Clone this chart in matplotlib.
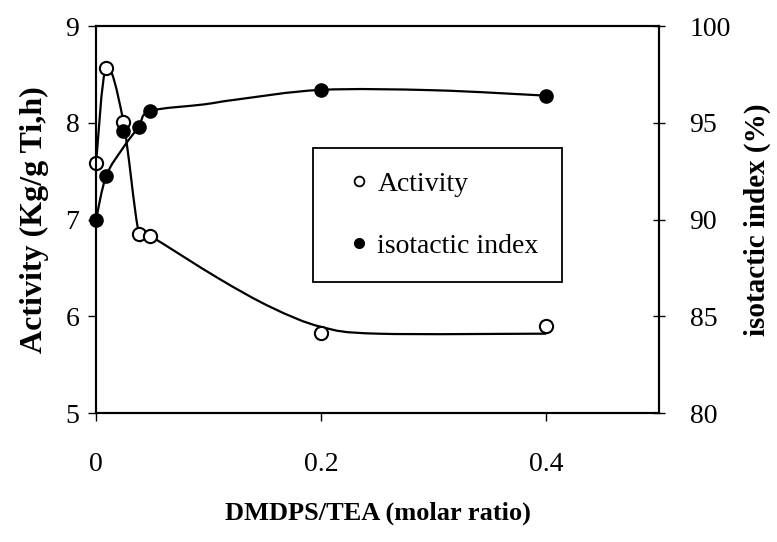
import numpy as np
import matplotlib
matplotlib.use("Agg")
import matplotlib.pyplot as plt
from matplotlib.path import Path
from matplotlib.patches import PathPatch

plt.rcParams['font.family'] = ['Liberation Serif', 'DejaVu Serif']

# measured points
ratio = [0, 0.009, 0.024, 0.038, 0.048, 0.2, 0.4]
activity = [7.58, 8.57, 8.01, 6.85, 6.83, 5.83, 5.90]
iso_index = [90.0, 92.25, 94.6, 94.8, 95.6, 96.7, 96.4]

# hand-drawn trend curves
act_curve_x = [0, 0.009, 0.024, 0.038, 0.048, 0.109, 0.156, 0.2, 0.25, 0.4]
act_curve_y = [7.58, 8.57, 8.03, 6.86, 6.83, 6.39, 6.09, 5.89, 5.82, 5.82]
iso_curve_x = [0, 0.009, 0.024, 0.038, 0.048, 0.096, 0.125, 0.2, 0.3, 0.4]
iso_curve_y = [90.0, 92.25, 93.7, 94.8, 95.6, 95.95, 96.2, 96.7, 96.68, 96.4]

x_ticks = [0, 0.2, 0.4]
left_ticks = [5, 6, 7, 8, 9]
right_ticks = [80, 85, 90, 95, 100]


def smooth_path(xs, ys):
    # Catmull-Rom -> cubic Bezier path through the curve points
    p = np.column_stack([xs, ys]).astype(float)
    p = np.vstack([p[0], p, p[-1]])
    verts = [p[1]]
    codes = [Path.MOVETO]
    for i in range(1, len(p) - 2):
        c1 = p[i] + (p[i + 1] - p[i - 1]) / 6
        c2 = p[i + 1] - (p[i + 2] - p[i]) / 6
        verts += [c1, c2, p[i + 1]]
        codes += [Path.CURVE4] * 3
    return Path(verts, codes)


fig = plt.figure(figsize=(7.77, 5.42), dpi=100)
ax = fig.add_axes([0.1236, 0.238, 0.7245, 0.714])
ax2 = ax.twinx()

ax.add_patch(PathPatch(smooth_path(act_curve_x, act_curve_y), fill=False,
                       lw=1.6, color='black', zorder=2))
ax2.add_patch(PathPatch(smooth_path(iso_curve_x, iso_curve_y), fill=False,
                        lw=1.6, color='black', zorder=2))

ax.plot(ratio, activity, 'o', ms=9.5, mfc='white', mec='black', mew=1.5,
        zorder=3, clip_on=False)
ax2.plot(ratio, iso_index, 'o', ms=9.5, mfc='black', mec='black',
         zorder=3, clip_on=False)

ax.set_xlim(0, 0.5)
ax.set_ylim(5, 9)
ax2.set_ylim(80, 100)
ax.set_xticks(x_ticks)
ax.set_xticklabels(['0', '0.2', '0.4'])
ax.set_yticks(left_ticks)
ax2.set_yticks(right_ticks)

for a in (ax, ax2):
    for s in a.spines.values():
        s.set_linewidth(1.5)
ax.tick_params(axis='x', direction='out', length=6, width=1, labelsize=20, pad=22)
ax.tick_params(axis='y', direction='out', length=6, width=1, labelsize=20, pad=6)
ax2.tick_params(axis='y', direction='inout', length=8, width=1, labelsize=20, pad=18)

ax.set_xlabel('DMDPS/TEA (molar ratio)', fontsize=19, fontweight='bold', labelpad=18)
ax.set_ylabel('Activity (Kg/g Ti,h)', fontsize=23, fontweight='bold', labelpad=12)
ax2.set_ylabel('isotactic index (%)', fontsize=21, fontweight='bold', labelpad=9)

# legend entries: markers only
h1, = ax.plot([], [], 'o', ms=7, mfc='white', mec='black', mew=1.3, label='Activity')
h2, = ax.plot([], [], 'o', ms=7, mfc='black', mec='black', label='isotactic index')
leg = ax.legend(handles=[h1, h2], loc='upper left', bbox_to_anchor=(0.385, 0.685),
                borderaxespad=0, fontsize=20, frameon=True, fancybox=False,
                edgecolor='black', framealpha=1, handlelength=1.6,
                handletextpad=-0.12, labelspacing=1.3, borderpad=0.85)
leg.get_frame().set_linewidth(1.3)
leg.set_zorder(5)

fig.savefig('out.png', dpi=100)
